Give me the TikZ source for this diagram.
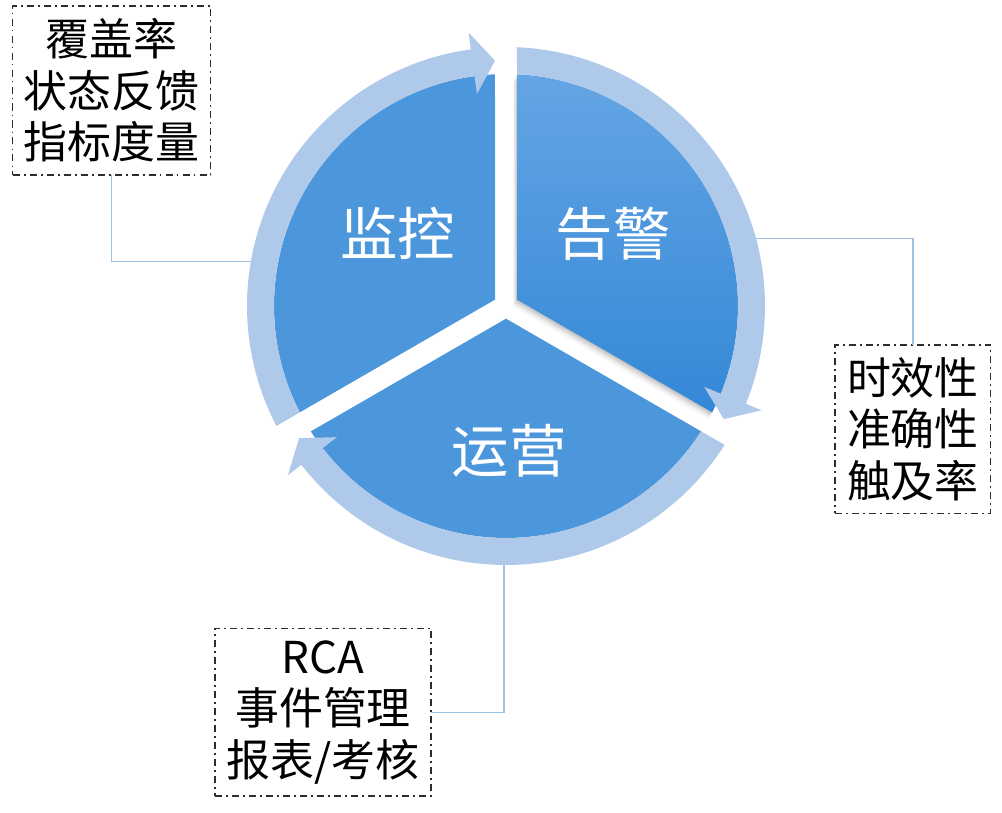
\documentclass[tikz,border=0pt]{standalone}
\usepackage{fontspec}
\newfontfamily\cjk{Noto Sans CJK SC}
\usetikzlibrary{calc}
\definecolor{pieblue}{RGB}{76,150,219}
\definecolor{pietop}{RGB}{100,165,228}
\definecolor{piebot}{RGB}{52,136,215}
\definecolor{ringblue}{RGB}{174,201,233}
\definecolor{linkblue}{RGB}{157,195,230}
\definecolor{boxline}{RGB}{45,45,45}
\begin{document}
\begin{tikzpicture}[x=0.03cm,y=0.03cm,
  sector/.style={fill=pieblue,draw=none},
  alertsector/.style={top color=pietop,bottom color=piebot,draw=none},
  ringarrow/.style={fill=ringblue,draw=none},
  biglabel/.style={text=white,font=\cjk\fontsize{49pt}{55pt}\selectfont,inner sep=0pt},
  infobox/.style={draw=boxline,line width=1pt,
    dash pattern=on 6pt off 3.5pt on 1.5pt off 3.5pt,
    align=center,inner sep=0pt,outer sep=0pt,
    font=\cjk\fontsize{37.5pt}{44pt}\selectfont},
  link/.style={draw=linkblue,line width=1.1pt}]
\useasboundingbox (0,0) rectangle (1002,813);

\begin{scope}[shift={(506,507)}]
  % shadow of the alert sector
  \foreach \d/\op in {8/0.03,6/0.04,4.5/0.05,3/0.06,1.5/0.07}{
    \fill[black,opacity=\op,shift={(-120:\d)}]
      (30:12.7) -- (87.28:232) arc[start angle=87.28,end angle=-27.28,radius=232] -- cycle;
  }
  % sectors
  \path[sector] (150:12.7) -- (92.72:232)
    arc[start angle=92.72,end angle=207.28,radius=232] -- cycle;
  \path[alertsector] (30:12.7) -- (87.28:232)
    arc[start angle=87.28,end angle=-27.28,radius=232] -- cycle;
  \path[sector] (270:12.7) -- (212.72:232)
    arc[start angle=212.72,end angle=327.28,radius=232] -- cycle;
  % ring arrows
  \path[ringarrow] (207.57:259) arc[start angle=207.57,end angle=97.8,radius=259]
    -- (97.8:276) -- (92.57:245.5) -- (97.8:214) -- (97.8:232)
    arc[start angle=97.8,end angle=207.28,radius=232] -- cycle;
  \path[ringarrow] (87.57:259) arc[start angle=87.57,end angle=-22.2,radius=259]
    -- (-22.2:276) -- (-27.43:245.5) -- (-22.2:214) -- (-22.2:232)
    arc[start angle=-22.2,end angle=87.28,radius=232] -- cycle;
  \path[ringarrow] (327.57:259) arc[start angle=327.57,end angle=217.8,radius=259]
    -- (217.8:276) -- (212.57:245.5) -- (217.8:214) -- (217.8:232)
    arc[start angle=217.8,end angle=327.28,radius=232] -- cycle;
\end{scope}

% sector labels
\node[biglabel] (mon) at (397.5,580) {监控};
\node[biglabel] (alert) at (613,579) {告警};
\node[biglabel] (ops) at (509,362) {运营};

% info boxes
\node[infobox,minimum width=5.94cm,minimum height=5.07cm] (box1) at (111.7,722.5)
  {覆盖率\\状态反馈\\指标度量};
\node[infobox,minimum width=4.67cm,minimum height=5.05cm] (box2) at (912.9,383.8)
  {时效性\\准确性\\触及率};
\node[infobox,minimum width=6.48cm,minimum height=5.03cm] (box3) at (323,100.8)
  {RCA\\事件管理\\报表/考核};

% ring contact points
\coordinate (c1) at (251,551.3);
\coordinate (c2) at (756,574.7);
\coordinate (c3) at (504,248);

% connectors
\draw[link] (box1.south) |- (c1);
\draw[link] (c2) -| (box2.north);
\draw[link] (box3.east) -| (c3);
\end{tikzpicture}
\end{document}
